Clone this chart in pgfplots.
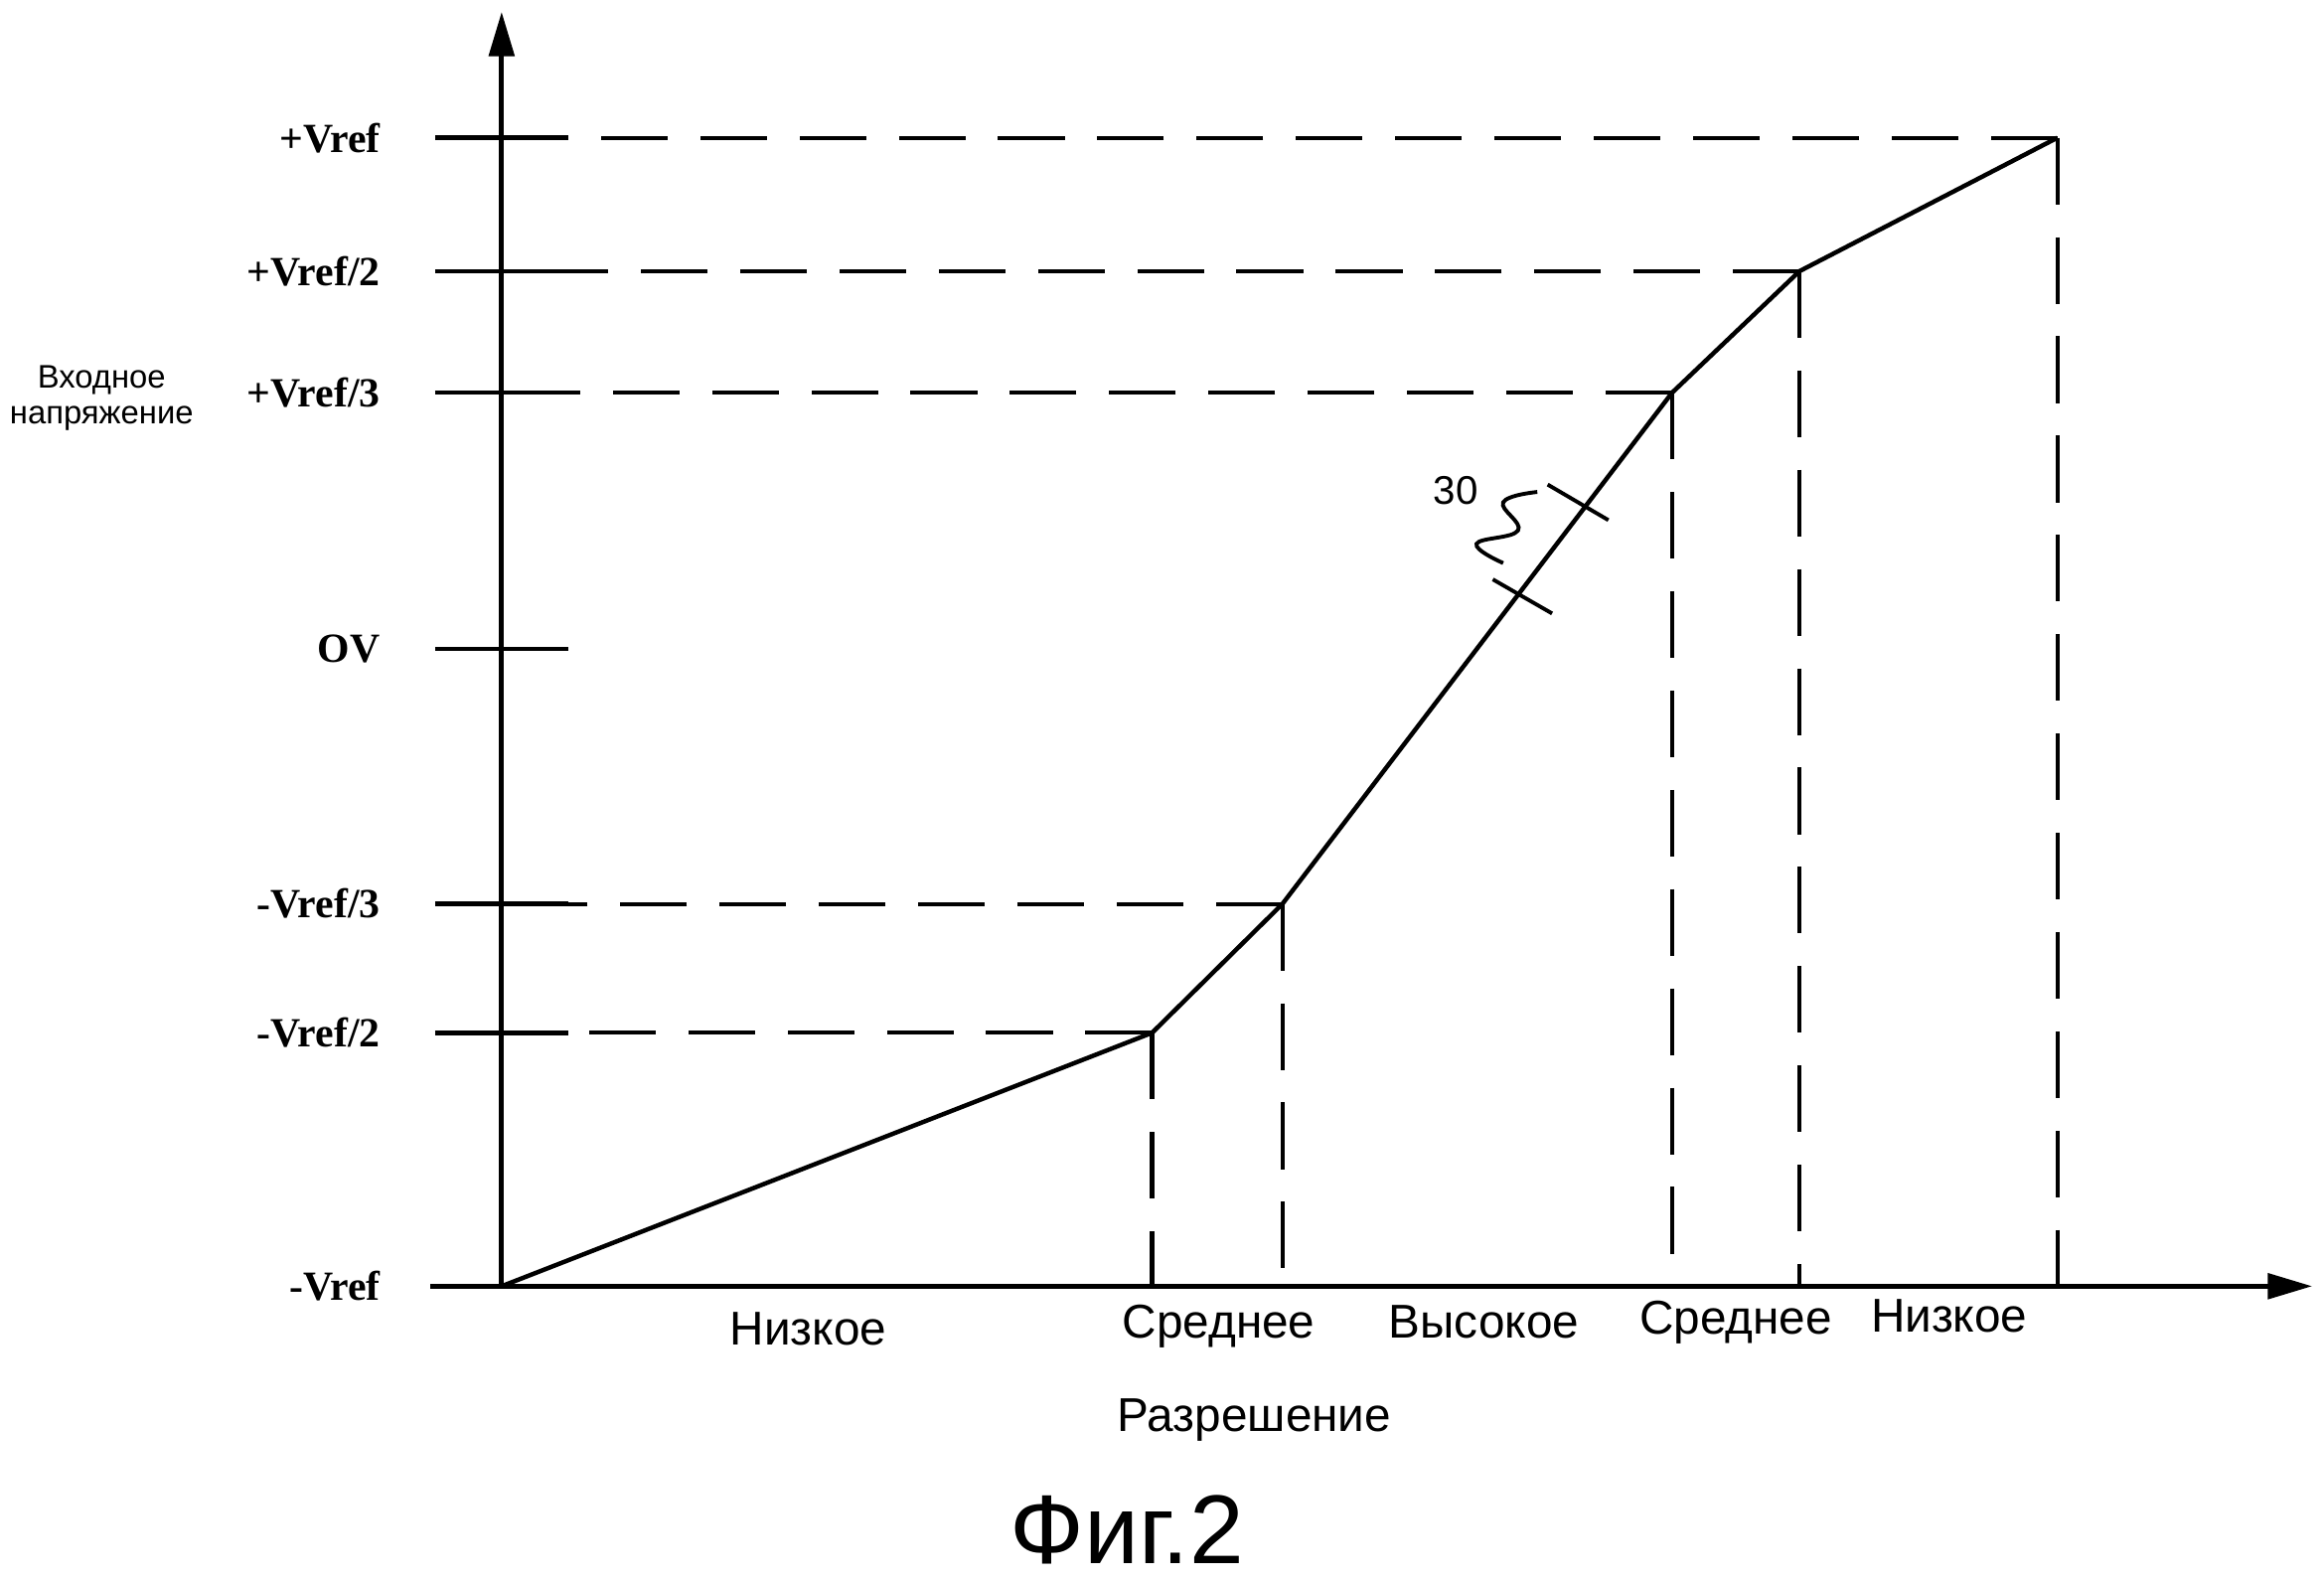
\documentclass[border=0pt]{standalone}
\usepackage{pgfplots}
\pgfplotsset{compat=1.18}
\usetikzlibrary{arrows.meta}
\usepackage{fontspec}
\setmainfont{Liberation Serif}
\newfontfamily\sansf{Liberation Sans}

\begin{document}
\begin{tikzpicture}
\begin{axis}[
  scale only axis,
  x=0.5pt, y=0.5pt,
  xmin=-48, xmax=1222, ymin=0, ymax=860,
  axis lines=middle,
  axis line style={line width=1.6pt, -{Triangle[length=15pt,width=8.5pt]}},
  xtick=\empty,
  ytick={0,171,258,430,603,685,775},
  yticklabels={-Vref,-Vref/2,-Vref/3,OV,+Vref/3,+Vref/2,+Vref},
  hide obscured y ticks=false,
  tick align=center,
  major tick length=45pt,
  tick style={line width=1.5pt, black},
  yticklabel style={font=\bfseries\fontsize{14}{17}\selectfont, anchor=east, xshift=-15pt},
  xlabel={Разрешение},
  xlabel style={font=\sansf\fontsize{16}{19}\selectfont, at={(axis description cs:0.4378,-0.114)}, anchor=base},
  ylabel={Входное\\напряжение},
  ylabel style={font=\sansf\fontsize{11}{12}\selectfont, align=center, rotate=0, at={(axis description cs:-0.1748,0.697)}, anchor=center},
  clip=false,
]
% invisible frame giving the figure's full extent
\path (axis cs:-338,-199) rectangle (axis cs:1230,868);

% the characteristic
\addplot[line width=1.5pt, line join=round] coordinates {(0,0) (439,171) (527,258) (790,603) (876,685) (1050,775)};

% dashed guides
\pgfplotsset{guide/.style={line width=1.4pt, dash pattern=on 22.5pt off 11pt}}
\addplot[guide] coordinates {(439,171) (0,171)};
\addplot[guide] coordinates {(527,258) (0,258)};
\addplot[guide] coordinates {(790,603) (0,603)};
\addplot[guide] coordinates {(876,685) (0,685)};
\addplot[guide] coordinates {(1050,775) (0,775)};
\addplot[guide] coordinates {(439,171) (439,0)};
\addplot[guide] coordinates {(527,258) (527,0)};
\addplot[guide] coordinates {(790,603) (790,0)};
\addplot[guide] coordinates {(876,685) (876,0)};
\addplot[guide] coordinates {(1050,775) (1050,0)};

% reference numeral 30 with leader and section marks
\addplot[line width=1.3pt] coordinates {(706,541) (747,517)};
\addplot[line width=1.3pt] coordinates {(669,477) (709,454)};
\addplot[line width=1.3pt, smooth, tension=0.7] coordinates {(699,536) (676,529) (686,510) (658,501) (676,488)};
\node[font=\sansf\fontsize{13.5}{16}\selectfont] at (axis cs:644,537) {30};

% region names
\node[font=\sansf\fontsize{16}{19}\selectfont, anchor=base] at (axis cs:207,-40) {Низкое};
\node[font=\sansf\fontsize{16}{19}\selectfont, anchor=base] at (axis cs:484,-35) {Среднее};
\node[font=\sansf\fontsize{16}{19}\selectfont, anchor=base] at (axis cs:663,-35) {Высокое};
\node[font=\sansf\fontsize{16}{19}\selectfont, anchor=base] at (axis cs:833,-32) {Среднее};
\node[font=\sansf\fontsize{16}{19}\selectfont, anchor=base] at (axis cs:977,-31) {Низкое};

% figure caption
\node[font=\sansf\fontsize{33}{38}\selectfont, anchor=base] at (axis cs:422,-187) {Фиг.2};
\end{axis}
\end{tikzpicture}
\end{document}
